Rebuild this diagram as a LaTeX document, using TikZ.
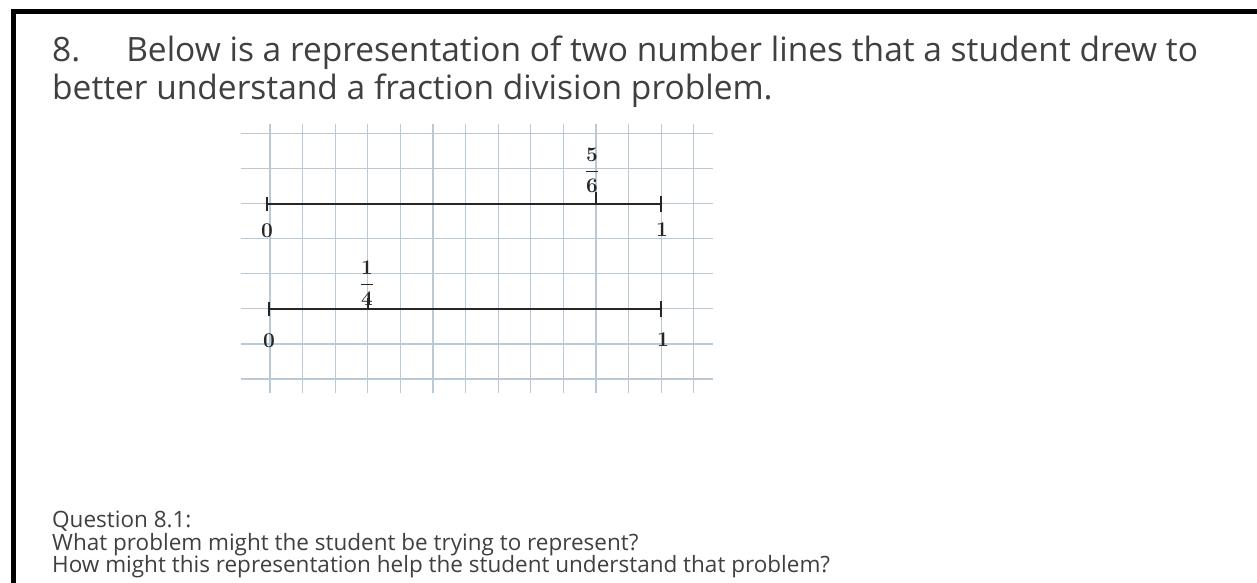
\documentclass[tikz,border=0pt]{standalone}
\usepackage{fontspec}
\usepackage{amsmath}
\usetikzlibrary{positioning}
\newfontfamily\uifont{Open Sans}
\definecolor{txtgray}{HTML}{404040}
\definecolor{gridblue}{HTML}{B9C9D6}
\definecolor{inkgray}{HTML}{262626}

\begin{document}
\begin{tikzpicture}[
  x=1pt, y=-1pt,
  title/.style={anchor=base west,inner sep=0pt,text=txtgray,font=\uifont\fontsize{33.5}{38}\selectfont},
  question/.style={anchor=base west,inner sep=0pt,text=txtgray,font=\uifont\fontsize{22.5}{24}\selectfont},
  gridline/.style={gridblue,line width=1.3pt},
  numline/.style={inkgray,line width=2.8pt,line cap=round},
  tickmark/.style={inkgray,line width=2.4pt},
  hand/.style={inner sep=0pt,text=inkgray,font=\fontsize{21}{23}\selectfont\bfseries\boldmath}
]
  \useasboundingbox (0,0) rectangle (1257,583);
  \fill[white] (0,0) rectangle (1257,583);
  \draw[line width=5pt] (1257,11.5) -- (13.5,11.5) -- (13.5,583);

  \node[title] (head1) at (52,62) {8.\hspace{46pt}Below is a representation of two number lines that a student drew to};
  \node[title] (head2) at (52,100) {better understand a fraction division problem.};

  \foreach \i in {0,...,13}
    \draw[gridline] (270+32.6*\i,124) -- (270+32.6*\i,393);
  \foreach \j in {0,...,7}
    \draw[gridline] (241,133.3+35.1*\j) -- (713,133.3+35.1*\j);

  \coordinate (top0) at (267,204);
  \coordinate (top1) at (661,204);
  \coordinate (topfive) at (596,204);
  \coordinate (bot0) at (269,309);
  \coordinate (bot1) at (661,309);
  \coordinate (botquarter) at (368,309);

  \draw[numline] (top0) -- (top1);
  \draw[numline] (bot0) -- (bot1);
  \draw[tickmark] ([yshift=7pt]top0) -- ([yshift=-7pt]top0);
  \draw[tickmark] ([yshift=8pt]top1) -- ([yshift=-8pt]top1);
  \draw[tickmark] (topfive) -- ++(0,-12);
  \draw[tickmark] ([yshift=7pt]bot0) -- ([yshift=-7pt]bot0);
  \draw[tickmark] ([yshift=8pt]bot1) -- ([yshift=-8pt]bot1);
  \draw[tickmark] (botquarter) -- ++(0,-11);

  \node[hand] (zeroa) at (267,231) {0};
  \node[hand] (onea) at (662,230) {1};
  \node[hand] (fivesix) at (592,170) {\(\dfrac{5}{6}\)};
  \node[hand] (zerob) at (269,341) {0};
  \node[hand] (oneb) at (663,340) {1};
  \node[hand] (quarter) at (367,283) {\(\dfrac{1}{4}\)};

  \node[question] (ask1) at (52,527) {Question 8.1:};
  \node[question] (ask2) at (52,550) {What problem might the student be trying to represent?};
  \node[question] (ask3) at (52,572) {How might this representation help the student understand that problem?};
\end{tikzpicture}
\end{document}
